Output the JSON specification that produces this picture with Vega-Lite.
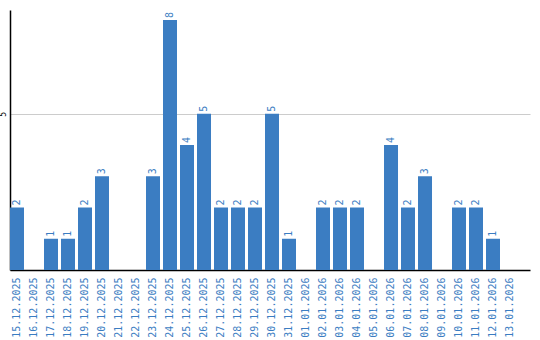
{
  "$schema": "https://vega.github.io/schema/vega-lite/v6.json",
  "autosize": "none",
  "width": 520,
  "height": 260,
  "padding": {"left": 10, "top": 10, "right": 10, "bottom": 70},
  "background": "white",
  "config": {"view": {"stroke": null}, "font": "DejaVu Sans Mono"},
  "data": {"values": [
    {"date": "15.12.2025", "count": 2},
    {"date": "16.12.2025", "count": 0},
    {"date": "17.12.2025", "count": 1},
    {"date": "18.12.2025", "count": 1},
    {"date": "19.12.2025", "count": 2},
    {"date": "20.12.2025", "count": 3},
    {"date": "21.12.2025", "count": 0},
    {"date": "22.12.2025", "count": 0},
    {"date": "23.12.2025", "count": 3},
    {"date": "24.12.2025", "count": 8},
    {"date": "25.12.2025", "count": 4},
    {"date": "26.12.2025", "count": 5},
    {"date": "27.12.2025", "count": 2},
    {"date": "28.12.2025", "count": 2},
    {"date": "29.12.2025", "count": 2},
    {"date": "30.12.2025", "count": 5},
    {"date": "31.12.2025", "count": 1},
    {"date": "01.01.2026", "count": 0},
    {"date": "02.01.2026", "count": 2},
    {"date": "03.01.2026", "count": 2},
    {"date": "04.01.2026", "count": 2},
    {"date": "05.01.2026", "count": 0},
    {"date": "06.01.2026", "count": 4},
    {"date": "07.01.2026", "count": 2},
    {"date": "08.01.2026", "count": 3},
    {"date": "09.01.2026", "count": 0},
    {"date": "10.01.2026", "count": 2},
    {"date": "11.01.2026", "count": 2},
    {"date": "12.01.2026", "count": 1},
    {"date": "13.01.2026", "count": 0}
  ]},
  "encoding": {
    "x": {
      "field": "date", "type": "ordinal", "sort": null,
      "scale": {"paddingInner": 0.1765, "paddingOuter": 0.382, "align": 0},
      "axis": {
        "title": null, "labelAngle": -90, "labelFontSize": 10, "labelFont": "DejaVu Sans Mono",
        "labelColor": "#3b7dc2", "ticks": false, "labelPadding": 7,
        "domainColor": "#000000", "domainWidth": 1.5, "grid": false
      }
    },
    "y": {
      "field": "count", "type": "quantitative",
      "scale": {"domain": [0, 8.32], "nice": false},
      "axis": {
        "title": null, "values": [5], "ticks": false, "labelAngle": -90,
        "labelFontSize": 8, "labelColor": "#000000", "labelPadding": 3,
        "labelAlign": "center", "labelBaseline": "bottom",
        "domainColor": "#000000", "domainWidth": 1.5,
        "grid": true, "gridColor": "#cccccc", "gridWidth": 1
      }
    }
  },
  "layer": [
    {"mark": {"type": "bar", "color": "#3b7dc2"}},
    {
      "transform": [{"filter": "datum.count > 0"}],
      "mark": {"type": "text", "angle": -90, "align": "left", "baseline": "middle", "dx": 2, "fontSize": 10, "font": "DejaVu Sans Mono", "color": "#3b7dc2"},
      "encoding": {"text": {"field": "count", "type": "quantitative"}}
    }
  ]
}
